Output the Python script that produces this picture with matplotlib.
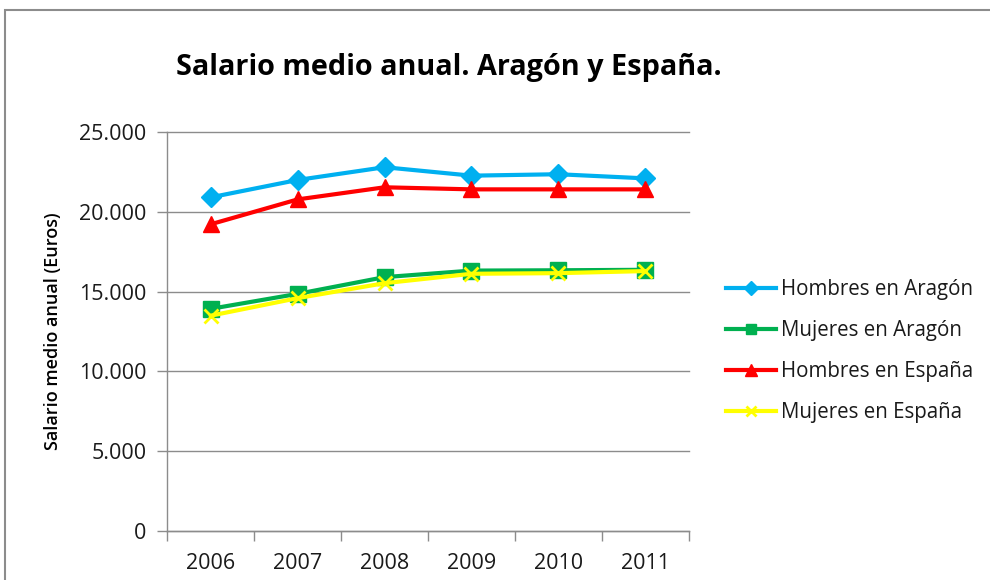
import matplotlib
matplotlib.use("Agg")
import matplotlib.pyplot as plt
from matplotlib.patches import Rectangle

years = ["2006", "2007", "2008", "2009", "2010", "2011"]
hombres_aragon = [20930, 22020, 22820, 22290, 22380, 22120]
mujeres_aragon = [13930, 14870, 15920, 16330, 16350, 16380]
hombres_espana = [19240, 20800, 21560, 21430, 21430, 21430]
mujeres_espana = [13500, 14600, 15540, 16130, 16170, 16300]
yticks = [0, 5000, 10000, 15000, 20000, 25000]
ytick_labels = ["0", "5.000", "10.000", "15.000", "20.000", "25.000"]

plt.rcParams['font.family'] = ['Open Sans', 'DejaVu Sans']

W, H = 990, 580
fig = plt.figure(figsize=(W / 100, H / 100), dpi=100)
fig.patch.set_facecolor("white")

# outer chart border
fig.patches.append(Rectangle((5 / W, -0.1), 2.0, (H - 10) / H + 0.1,
                             transform=fig.transFigure, fill=False,
                             edgecolor="#8c8c8c", linewidth=1.5))

left, right, bottom, top = 167.3, 688.7, 530.7, 132.5
ax = fig.add_axes([left / W, (H - bottom) / H, (right - left) / W, (bottom - top) / H])

x = list(range(len(years)))
series = [
    (hombres_aragon, "Hombres en Aragón", "#00B0F0", "D", 10.5, {}),
    (mujeres_aragon, "Mujeres en Aragón", "#00B050", "s", 11, {}),
    (hombres_espana, "Hombres en España", "#FF0000", "^", 12, {}),
    (mujeres_espana, "Mujeres en España", "#FFFF00", "x", 10, {"markeredgewidth": 2}),
]
for vals, lab, col, mk, ms, kw in series:
    ax.plot(x, vals, color=col, linewidth=3, marker=mk, markersize=ms,
            markerfacecolor=col, markeredgecolor=col, label=lab, **kw)

ax.set_xlim(-0.5, len(years) - 0.5)
ax.set_ylim(0, 25000)
ax.set_yticks(yticks)
ax.set_yticklabels(ytick_labels)
ax.set_xticks(x)
ax.set_xticklabels(years)
ax.set_xticks([i - 0.5 for i in range(len(years) + 1)], minor=True)
ax.tick_params(axis="x", which="major", length=0, pad=16, labelsize=15.5, labelcolor="#1a1a1a")
ax.tick_params(axis="x", which="minor", length=7, color="#8c8c8c", width=1)
ax.tick_params(axis="y", which="major", length=7, color="#8c8c8c", width=1,
               pad=8, labelsize=15.5, labelcolor="#1a1a1a")
ax.grid(axis="y", color="#8c8c8c", linewidth=1)
for gl in ax.get_ygridlines():
    gl.set_clip_on(False)
ax.set_axisbelow(True)
for s in ["top", "right"]:
    ax.spines[s].set_visible(False)
for s in ["left", "bottom"]:
    ax.spines[s].set_color("#8c8c8c")
    ax.spines[s].set_linewidth(1)

ax.set_ylabel("Salario medio anual (Euros)", fontsize=13, fontweight="semibold",
              color="#000000", labelpad=12)

fig.text(449 / W, (H - 68) / H, "Salario medio anual. Aragón y España.",
         ha="center", va="center", fontsize=20.8, fontweight="bold", color="#000000")

leg = fig.legend(loc="upper left", bbox_to_anchor=(707 / W, (H - 261) / H),
                 frameon=False, fontsize=14.8, handlelength=2.45, handletextpad=0.25,
                 labelspacing=0.97, labelcolor="#1a1a1a", markerscale=0.7)

fig.savefig("out.png", dpi=100, facecolor="white")
